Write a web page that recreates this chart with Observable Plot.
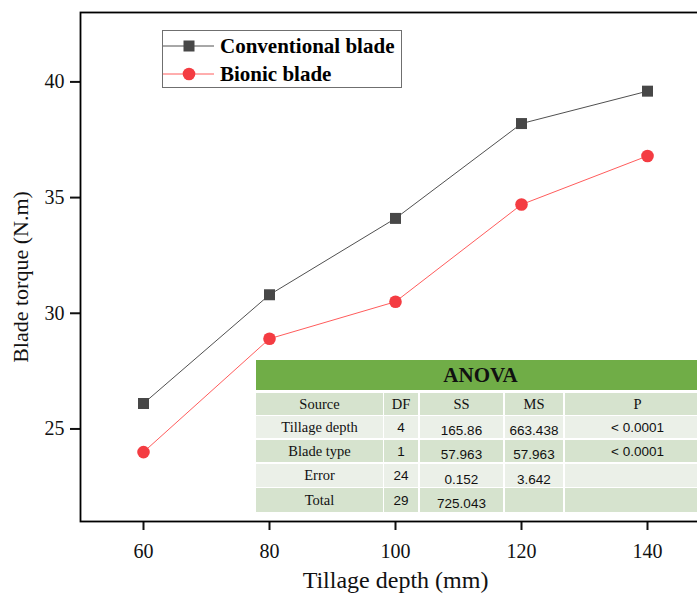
<!DOCTYPE html>
<html>
<head>
<meta charset="utf-8">
<script src="https://cdn.jsdelivr.net/npm/d3@7"></script>
<script src="https://cdn.jsdelivr.net/npm/@observablehq/plot@0.6"></script>
<style>
  html, body { margin: 0; padding: 0; background: #ffffff; overflow: hidden; width: 697px; height: 599px; }
  #wrap { position: relative; width: 697px; height: 599px; overflow: hidden; }
  #chart svg { display: block; overflow: hidden; }
  .legend { position: absolute; left: 162px; top: 30px; width: 240px; height: 58px; border: 1px solid #6f6f6f; box-sizing: border-box; background: #fff; }
  .lrow { position: absolute; left: 0; height: 22px; display: flex; align-items: center; }
  .lrow span { font-family: "Liberation Serif", serif; font-weight: bold; font-size: 21px; color: #000; margin-left: 5px; white-space: nowrap; }
  .cell { position: absolute; display: flex; align-items: center; justify-content: center; box-sizing: border-box; white-space: nowrap; color: #111; }
  .serif { font-family: "Liberation Serif", serif; font-size: 14.5px; }
  .sans { font-family: "Liberation Sans", Arial, sans-serif; font-size: 13.5px; }
</style>
</head>
<body>
<div id="wrap">
  <div id="chart"></div>
</div>
<script>
// ---- data ----
const depth = [60, 80, 100, 120, 140];
const conventional = [26.1, 30.8, 34.1, 38.2, 39.6];
const bionic = [24.0, 28.9, 30.5, 34.7, 36.8];
const seriesNames = ["Conventional blade", "Bionic blade"];
const xTicks = [60, 80, 100, 120, 140];
const yTicks = [25, 30, 35, 40];
const anovaTitle = "ANOVA";
const anovaHeader = ["Source", "DF", "SS", "MS", "P"];
const anovaSource = ["Tillage depth", "Blade type", "Error", "Total"];
const anovaDF = ["4", "1", "24", "29"];
const anovaSS = ["165.86", "57.963", "0.152", "725.043"];
const anovaMS = ["663.438", "57.963", "3.642", ""];
const anovaP = ["< 0.0001", "< 0.0001", "", ""];

// ---- chart ----
const convData = depth.map((d, i) => ({x: d, y: conventional[i], s: seriesNames[0]}));
const bioData = depth.map((d, i) => ({x: d, y: bionic[i], s: seriesNames[1]}));

const chart = Plot.plot({
  width: 697,
  height: 599,
  marginLeft: 80,
  marginRight: -13,
  marginTop: 12,
  marginBottom: 78,
  style: {fontFamily: "Liberation Serif", fontSize: "20px", color: "#111", background: "transparent"},
  x: {domain: [50, 150]},
  y: {domain: [21, 43]},
  marks: [
    Plot.line(convData, {x: "x", y: "y", stroke: "#505050", strokeWidth: 1}),
    Plot.line(bioData, {x: "x", y: "y", stroke: "#ff5c5c", strokeWidth: 1}),
    Plot.dot(convData, {x: "x", y: "y", symbol: "square", r: 6.2, fill: "#474747", stroke: "none"}),
    Plot.dot(bioData, {x: "x", y: "y", symbol: "circle", r: 6.3, fill: "#f43c42", stroke: "none"}),
    Plot.axisX({ticks: xTicks, tickSize: 9, tickPadding: 13, label: null, fontSize: 20, strokeWidth: 2}),
    Plot.axisY({ticks: yTicks, tickSize: 10, tickPadding: 6, label: null, fontSize: 20, strokeWidth: 2}),
    Plot.frame({stroke: "#000", strokeWidth: 1.8}),
    Plot.text(["Tillage depth (mm)"], {frameAnchor: "bottom", textAnchor: "middle", dx: 0, dy: 66, fontSize: 24, fill: "#111"}),
    Plot.text(["Blade torque (N.m)"], {frameAnchor: "left", textAnchor: "middle", dx: -60, dy: 10, rotate: -90, fontSize: 22, fill: "#111"})
  ]
});
document.getElementById("chart").appendChild(chart);

const wrap = document.getElementById("wrap");

// ---- legend ----
const legend = document.createElement("div");
legend.className = "legend";
const swatches = [
  {name: seriesNames[0], line: "#505050", fill: "#474747", shape: "square"},
  {name: seriesNames[1], line: "#ff5c5c", fill: "#f43c42", shape: "circle"}
];
swatches.forEach((s, i) => {
  const row = document.createElement("div");
  row.className = "lrow";
  row.style.top = (i === 0 ? 4 : 32) + "px";
  const marker = s.shape === "square"
    ? `<rect x="20.5" y="5.5" width="11" height="11" fill="${s.fill}"/>`
    : `<circle cx="26" cy="11" r="6.3" fill="${s.fill}"/>`;
  row.innerHTML = `<svg width="52" height="22" style="display:block"><line x1="0" y1="11" x2="51" y2="11" stroke="${s.line}" stroke-width="1"/>${marker}</svg><span>${s.name}</span>`;
  legend.appendChild(row);
});
wrap.appendChild(legend);

// ---- ANOVA table ----
const colX = [256, 384, 420, 505, 565];
const colW = [127, 34, 83, 58, 145];
const rowY = [393, 416, 440, 464, 488];
const rowH = [22, 22, 22, 23, 24];
const dark = "#d6e3ce", light = "#ebf0e8";

function cell(text, x, y, w, h, bg, cls, extra) {
  const d = document.createElement("div");
  d.className = "cell " + cls;
  d.style.left = x + "px"; d.style.top = y + "px";
  d.style.width = w + "px"; d.style.height = h + "px";
  d.style.background = bg;
  if (extra) Object.assign(d.style, extra);
  d.textContent = text;
  wrap.appendChild(d);
}
cell(anovaTitle, 256, 360, 449, 30, "#70ad47", "serif", {fontSize: "21px", fontWeight: "bold", color: "#111"});
anovaHeader.forEach((h, j) => cell(h, colX[j], rowY[0], colW[j], rowH[0], dark, "serif"));
anovaSource.forEach((src, i) => {
  const bg = i % 2 === 0 ? light : dark;
  const y = rowY[i + 1], h = rowH[i + 1];
  cell(src, colX[0], y, colW[0], h, bg, "serif");
  cell(anovaDF[i], colX[1], y, colW[1], h, bg, "sans");
  cell(anovaSS[i], colX[2], y, colW[2], h, bg, "sans", {paddingTop: "7px"});
  cell(anovaMS[i], colX[3], y, colW[3], h, bg, "sans", {paddingTop: "7px"});
  cell(anovaP[i], colX[4], y, colW[4], h, bg, "sans");
});
</script>
</body>
</html>
